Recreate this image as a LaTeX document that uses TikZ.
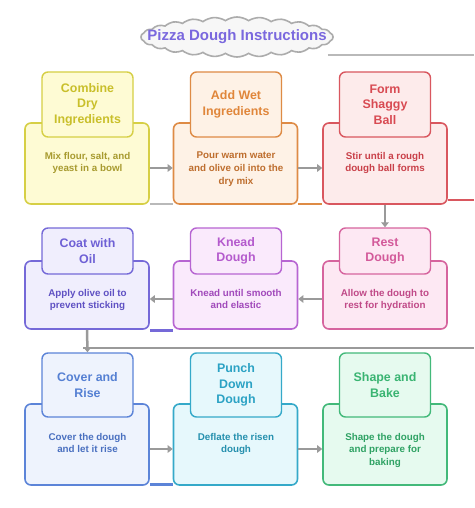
\documentclass[tikz,border=0pt]{standalone}
\usepackage{fontspec}
\setmainfont{Liberation Sans}
\usetikzlibrary{arrows.meta,shapes.symbols}
% yellow
\definecolor{yb}{HTML}{D6CF45}\definecolor{yf}{HTML}{FEFBD4}\definecolor{yt}{HTML}{C9BF2A}\definecolor{yx}{HTML}{A89B30}
% orange
\definecolor{ob}{HTML}{DE8B45}\definecolor{of}{HTML}{FEF2E6}\definecolor{ot}{HTML}{E0863A}\definecolor{ox}{HTML}{BE6E2E}
% red
\definecolor{rb}{HTML}{D9575F}\definecolor{rf}{HTML}{FDEBEB}\definecolor{rt}{HTML}{D84A52}\definecolor{rx}{HTML}{C94049}
% coat (indigo)
\definecolor{cb}{HTML}{7569D8}\definecolor{cf}{HTML}{F0EEFD}\definecolor{ct}{HTML}{6E60D5}\definecolor{cx}{HTML}{5F51C3}
% knead (violet)
\definecolor{kb}{HTML}{B765D2}\definecolor{kf}{HTML}{FAEAFC}\definecolor{kt}{HTML}{B45ACD}\definecolor{kx}{HTML}{A14ABB}
% rest (pink)
\definecolor{pb}{HTML}{D6649E}\definecolor{pf}{HTML}{FDE8F3}\definecolor{pt}{HTML}{D35A9A}\definecolor{px}{HTML}{C04A88}
% cover (blue)
\definecolor{bb}{HTML}{5C84D8}\definecolor{bf}{HTML}{EEF3FD}\definecolor{bt}{HTML}{5580D3}\definecolor{bx}{HTML}{4A70C0}
% punch (cyan)
\definecolor{nb}{HTML}{35A9C9}\definecolor{nf}{HTML}{E6F8FC}\definecolor{nt}{HTML}{2BA2C4}\definecolor{nx}{HTML}{2590AE}
% shape (green)
\definecolor{gb}{HTML}{43B97A}\definecolor{gf}{HTML}{E6FAEF}\definecolor{gt}{HTML}{3AB472}\definecolor{gx}{HTML}{2FA264}
\definecolor{arrowgray}{HTML}{9A9A9A}
\definecolor{titlecol}{HTML}{7A68DE}
\begin{document}
\begin{tikzpicture}[x=1pt,y=-1pt,
  bigbox/.style={draw=#1b, fill=#1f, rounded corners=6pt, line width=1.6pt,
    minimum width=124pt, inner sep=0pt},
  labbox/.style={draw=#1b, fill=#1f, rounded corners=6pt, line width=1.4pt,
    minimum width=91pt, inner sep=0pt, align=center, text=#1t,
    font=\fontsize{12.4}{15.5}\selectfont\bfseries},
  bodytext/.style={align=center, inner sep=0pt, anchor=north, text=#1x,
    font=\fontsize{9.8}{12.8}\selectfont\bfseries},
  flow/.style={draw=arrowgray, line width=2.5pt, -{Triangle[length=5pt,width=7.5pt]}},
  stray/.style={line width=#1},
  stray/.default=2pt]
\fill[white] (0,0) rectangle (474,508);
\useasboundingbox (0,0) rectangle (474,508);

% title
\node[cloud, cloud puffs=26, cloud puff arc=70, aspect=4.6, draw=gray!65, line width=1.6pt,
  fill=gray!6, minimum width=192pt, minimum height=40pt, inner sep=0pt] (title) at (237,37) {};
\node[text=titlecol, font=\fontsize{15}{18}\selectfont\bfseries] (titletext) at (237,37) {Pizza Dough Instructions};

% ---------- row 1
\node[bigbox=y, minimum height=81pt] (b1) at (87,163.5) {};
\node[bigbox=o, minimum height=81pt] (b2) at (235.5,163.5) {};
\node[bigbox=r, minimum height=81pt] (b3) at (385,163.5) {};
\node[labbox=y, minimum height=65pt] (l1) at (87.5,104.5) {Combine\\Dry\\Ingredients};
\node[labbox=o, minimum height=65pt] (l2) at (236,104.5) {Add Wet\\Ingredients};
\node[labbox=r, minimum height=65pt] (l3) at (385,104.5) {Form\\Shaggy\\Ball};
\node[bodytext=y] (t1) at ([yshift=-14pt]l1.south) {Mix flour, salt, and\\yeast in a bowl};
\node[bodytext=o] (t2) at ([yshift=-14pt]l2.south) {Pour warm water\\and olive oil into the\\dry mix};
\node[bodytext=r] (t3) at ([yshift=-14pt]l3.south) {Stir until a rough\\dough ball forms};

% ---------- row 2
\node[bigbox=c, minimum height=68pt] (b4) at (87,295) {};
\node[bigbox=k, minimum height=68pt] (b5) at (235.5,295) {};
\node[bigbox=p, minimum height=68pt] (b6) at (385,295) {};
\node[labbox=c, minimum height=46pt] (l4) at (87.5,251) {Coat with\\Oil};
\node[labbox=k, minimum height=46pt] (l5) at (236,251) {Knead\\Dough};
\node[labbox=p, minimum height=46pt] (l6) at (385,251) {Rest\\Dough};
\node[bodytext=c] (t4) at ([yshift=-14pt]l4.south) {Apply olive oil to\\prevent sticking};
\node[bodytext=k] (t5) at ([yshift=-14pt]l5.south) {Knead until smooth\\and elastic};
\node[bodytext=p] (t6) at ([yshift=-14pt]l6.south) {Allow the dough to\\rest for hydration};

% ---------- row 3
\node[bigbox=b, minimum height=81pt] (b7) at (87,444.5) {};
\node[bigbox=n, minimum height=81pt] (b8) at (235.5,444.5) {};
\node[bigbox=g, minimum height=81pt] (b9) at (385,444.5) {};
\node[labbox=b, minimum height=64pt] (l7) at (87.5,385) {Cover and\\Rise};
\node[labbox=n, minimum height=64pt] (l8) at (236,385) {Punch\\Down\\Dough};
\node[labbox=g, minimum height=64pt] (l9) at (385,385) {Shape and\\Bake};
\node[bodytext=b] (t7) at ([yshift=-15pt]l7.south) {Cover the dough\\and let it rise};
\node[bodytext=n] (t8) at ([yshift=-15pt]l8.south) {Deflate the risen\\dough};
\node[bodytext=g] (t9) at ([yshift=-15pt]l9.south) {Shape the dough\\and prepare for\\baking};

% ---------- stray edge lines
\coordinate (edgeT) at (474,55);
\coordinate (edgeR1) at (474,200);
\coordinate (edgeH) at (474,348);
\draw[stray=2pt, draw=gray!55] ([xshift=-6pt]title.east |- edgeT) -- (edgeT);
\draw[stray=2pt, draw=gray!55] ([yshift=1pt]b1.south east) -- ([yshift=1pt]b2.south west);
\draw[stray=2pt, draw=ob] ([yshift=1pt]b2.south east) -- ([yshift=1pt]b3.south west);
\draw[stray=2pt, draw=rb] (b3.east |- edgeR1) -- (edgeR1);
\draw[stray=3.5pt, draw=cb] ([yshift=-0.5pt]b4.south east) -- ([yshift=-0.5pt]b5.south west);
\draw[stray=3pt, draw=bb] ([yshift=1pt]b7.south east) -- ([yshift=1pt]b8.south west);
\draw[stray=2.5pt, draw=arrowgray] ([xshift=-4pt]b4.south |- edgeH) -- (edgeH);

% ---------- connectors
\draw[flow] ([yshift=-4.5pt]b1.east) -- ([yshift=-4.5pt]b2.west);
\draw[flow] ([yshift=-4.5pt]b2.east) -- ([yshift=-4.5pt]b3.west);
\draw[flow] (b3.south) -- (l6.north);
\draw[flow] ([yshift=-4pt]b6.west) -- ([yshift=-4pt]b5.east);
\draw[flow] ([yshift=-4pt]b5.west) -- ([yshift=-4pt]b4.east);
\draw[flow] (b4.south) -- (l7.north);
\draw[flow] ([yshift=-4.5pt]b7.east) -- ([yshift=-4.5pt]b8.west);
\draw[flow] ([yshift=-4.5pt]b8.east) -- ([yshift=-4.5pt]b9.west);
\end{tikzpicture}
\end{document}
